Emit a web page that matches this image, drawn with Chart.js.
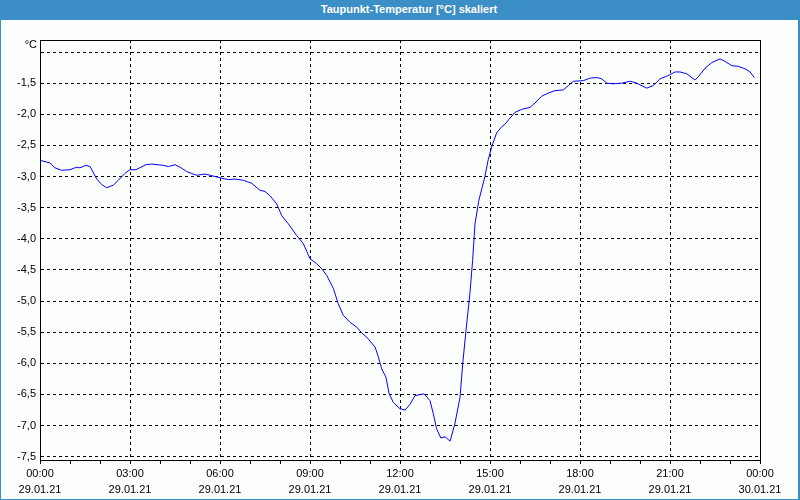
<!DOCTYPE html>
<html>
<head>
<meta charset="utf-8">
<script src="https://cdn.jsdelivr.net/npm/chart.js@4.4.1/dist/chart.umd.min.js"></script>
<style>
  body { margin: 0; background: #fff; }
  #wrap { position: relative; width: 800px; height: 500px; background: #fcfdfd; overflow: hidden; }
  #title {
    position: absolute; left: 0; top: 0; width: 800px; height: 20px; box-sizing: border-box;
    padding-left: 18px; background: #3c8fc6; color: #fff; text-align: center;
    font: bold 11px 'Liberation Sans Narrow', 'Liberation Sans', sans-serif; line-height: 19px;
  }
  #frame {
    position: absolute; left: 0; top: 0; width: 800px; height: 500px; box-sizing: border-box;
    border-left: 1px solid #3c8fc6; border-right: 2px solid #3c8fc6; border-bottom: 1px solid #3c8fc6;
    pointer-events: none;
  }
  canvas { position: absolute; left: 0; top: 0; }
</style>
</head>
<body>
<div id="wrap">
  <canvas id="chart" width="800" height="500"></canvas>
  <div id="title">Taupunkt-Temperatur [°C] skaliert</div>
  <div id="frame"></div>
</div>
<script>
// hours since 29.01.21 00:00
const hours = [
    0, 0.33, 0.5, 0.72, 1.0, 1.22, 1.33, 1.53, 1.67, 1.89, 2.06, 2.22, 2.44, 2.61, 2.83,
    3.0, 3.2, 3.53, 3.72, 4.11, 4.28, 4.5, 4.67, 4.89, 5.22, 5.5, 5.67, 6.0, 6.28, 6.5,
    6.78, 7.06, 7.33, 7.5, 7.67, 7.89, 8.06, 8.28, 8.56, 8.78, 9.0, 9.22, 9.39, 9.56, 9.78,
    9.94, 10.11, 10.33, 10.56, 10.72, 10.89, 11.17, 11.28, 11.39, 11.53, 11.64, 11.78, 12.0,
    12.17, 12.33, 12.5, 12.8, 13.0, 13.11, 13.22, 13.36, 13.5, 13.67, 13.83, 14.0, 14.09,
    14.2, 14.33, 14.42, 14.5, 14.63, 14.83, 14.94, 15.06, 15.22, 15.39, 15.5, 15.67, 15.83,
    16.06, 16.33, 16.5, 16.72, 16.94, 17.17, 17.44, 17.61, 17.78, 18.11, 18.33, 18.56, 18.72,
    18.89, 19.11, 19.39, 19.67, 19.89, 20.22, 20.44, 20.67, 20.89, 21.17, 21.33, 21.56, 21.83,
    21.94, 22.17, 22.39, 22.67, 22.83, 23.06, 23.28, 23.5, 23.67, 23.81
];
const dewPoint = [
    -2.74, -2.78, -2.86, -2.90, -2.89, -2.85, -2.86, -2.82, -2.84, -3.04, -3.13, -3.18, -3.14, -3.06, -2.95,
    -2.89, -2.89, -2.81, -2.80, -2.82, -2.84, -2.81, -2.85, -2.92, -2.98, -2.96, -2.98, -3.02, -3.05, -3.04,
    -3.06, -3.11, -3.22, -3.24, -3.31, -3.44, -3.63, -3.76, -3.95, -4.08, -4.32, -4.40, -4.48, -4.59, -4.80,
    -5.04, -5.23, -5.34, -5.42, -5.51, -5.58, -5.74, -5.90, -6.09, -6.22, -6.49, -6.63, -6.73,
    -6.75, -6.66, -6.52, -6.49, -6.60, -6.81, -7.05, -7.20, -7.18, -7.25, -6.97, -6.55, -6.01,
    -5.47, -4.88, -4.35, -3.76, -3.38, -3.00, -2.73, -2.52, -2.30, -2.20, -2.16, -2.06, -1.97,
    -1.92, -1.89, -1.82, -1.71, -1.66, -1.62, -1.61, -1.54, -1.47, -1.46, -1.42, -1.41, -1.43,
    -1.50, -1.51, -1.50, -1.47, -1.50, -1.58, -1.54, -1.43, -1.39, -1.32, -1.32, -1.35, -1.45,
    -1.40, -1.26, -1.17, -1.11, -1.15, -1.22, -1.23, -1.27, -1.32, -1.41
];

const yTicks = [-7.5, -7.0, -6.5, -6.0, -5.5, -5.0, -4.5, -4.0, -3.5, -3.0, -2.5, -2.0, -1.5, -1.0];
const xLabelHours = [0, 3, 6, 9, 12, 15, 18, 21, 24];
const xTimeLabels = ['00:00', '03:00', '06:00', '09:00', '12:00', '15:00', '18:00', '21:00', '00:00'];
const xDateLabels = ['29.01.21', '29.01.21', '29.01.21', '29.01.21', '29.01.21', '29.01.21', '29.01.21', '29.01.21', '30.01.21'];

const FONT = "'Liberation Sans Narrow', 'Liberation Sans', sans-serif";
Chart.defaults.font.family = FONT;
Chart.defaults.font.size = 11;
Chart.defaults.color = '#000';

// frame around plot + unit label
const framePlugin = {
    id: 'frame',
    afterDraw(chart) {
        const { ctx, chartArea: a } = chart;
        ctx.save();
        ctx.strokeStyle = '#000';
        ctx.lineWidth = 1;
        ctx.strokeRect(Math.round(a.left) + 0.5, Math.round(a.top) + 0.5,
            Math.round(a.right - a.left), Math.round(a.bottom - a.top));
        ctx.fillStyle = '#000';
        ctx.font = '11px ' + FONT;
        ctx.textAlign = 'right';
        ctx.textBaseline = 'middle';
        ctx.fillText('°C', a.left - 3, a.top + 5);
        ctx.restore();
    }
};

new Chart(document.getElementById('chart'), {
    type: 'line',
    data: {
        datasets: [{
            data: hours.map((h, i) => ({ x: h, y: dewPoint[i] })),
            borderColor: '#0000ff',
            borderWidth: 1,
            pointRadius: 0,
            tension: 0
        }]
    },
    options: {
        responsive: false,
        animation: false,
        layout: { padding: { top: 40, right: 40, left: 0, bottom: 0 } },
        plugins: { legend: { display: false }, tooltip: { enabled: false } },
        scales: {
            x: {
                type: 'linear',
                min: 0,
                max: 24,
                afterFit: s => { s.height = 40; },
                afterBuildTicks: s => { s.ticks = Array.from({ length: 25 }, (_, i) => ({ value: i })); },
                ticks: {
                    autoSkip: false,
                    maxRotation: 0,
                    padding: 2,
                    font: { size: 11, lineHeight: 1.45 },
                    callback: v => {
                        const i = xLabelHours.indexOf(v);
                        return i < 0 ? '' : [xTimeLabels[i], xDateLabels[i]];
                    }
                },
                grid: {
                    color: c => (c.tick && c.tick.value % 3 === 0 && c.tick.value > 0 && c.tick.value < 24) ? '#000' : 'rgba(0,0,0,0)',
                    tickColor: '#000',
                    tickLength: 4,
                    borderDash: [3, 3],
                    lineWidth: 1
                },
                border: { display: true, color: '#000', width: 1, dash: [3, 3] }
            },
            y: {
                min: -7.553,
                max: -0.807,
                afterFit: s => { s.width = 40; },
                afterBuildTicks: s => { s.ticks = yTicks.map(v => ({ value: v })); },
                ticks: {
                    padding: 4,
                    callback: v => v === -1 ? '' : v.toFixed(1).replace('.', ',')
                },
                grid: {
                    color: '#000',
                    drawTicks: false,
                    lineWidth: 1
                },
                border: { display: true, color: '#000', width: 1, dash: [3, 3] }
            }
        }
    },
    plugins: [framePlugin]
});
</script>
</body>
</html>
